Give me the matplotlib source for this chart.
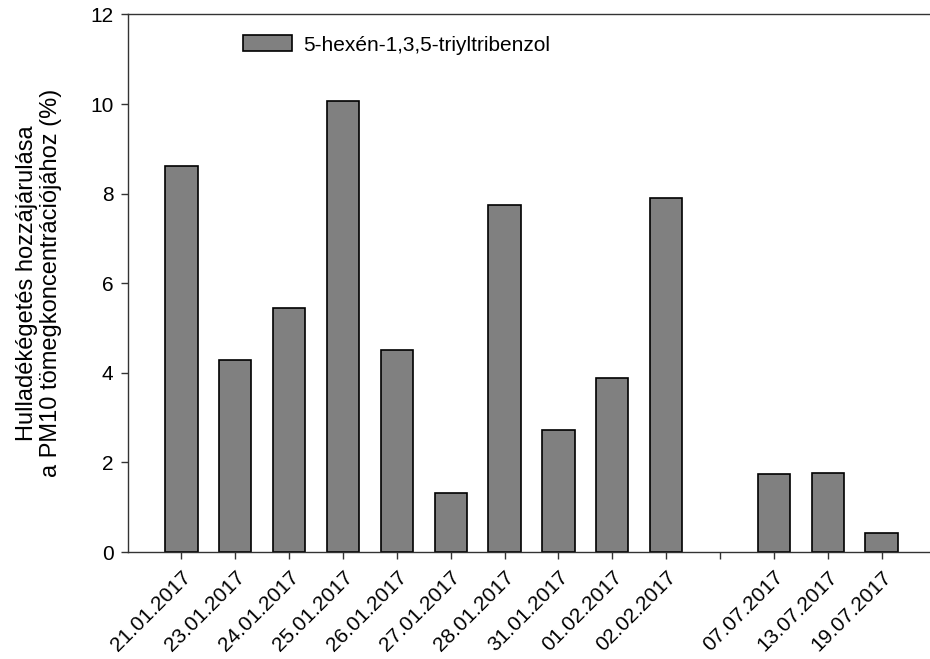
import matplotlib
matplotlib.use("Agg")
import matplotlib.pyplot as plt

plt.rcParams['font.family'] = ['Liberation Sans', 'DejaVu Sans']

# sampling dates (empty slot separates January/February from July)
dates = ['21.01.2017', '23.01.2017', '24.01.2017', '25.01.2017', '26.01.2017',
         '27.01.2017', '28.01.2017', '31.01.2017', '01.02.2017', '02.02.2017',
         '', '07.07.2017', '13.07.2017', '19.07.2017']
# contribution of waste burning to PM10 (%), None = no bar
values = [8.62, 4.29, 5.44, 10.06, 4.52, 1.32, 7.74, 2.73, 3.88, 7.91,
          None, 1.75, 1.77, 0.42]
series_name = '5-hexén-1,3,5-triyltribenzol'

fs = 15
fig = plt.figure(figsize=(9.30, 6.59), dpi=100)
W, H = 930, 659
x0, x1 = 127.5, 935.5
y0, y1 = 552.0, 14.4
ax = fig.add_axes([x0 / W, 1 - y0 / H, (x1 - x0) / W, (y0 - y1) / H])

pos = [i for i, v in enumerate(values) if v is not None]
vals = [v for v in values if v is not None]
ax.bar(pos, vals, width=0.6, color='#808080', edgecolor='black',
       linewidth=1.2, label=series_name, zorder=2)

ax.set_xlim(-1, 14)
ax.set_ylim(0, 12)
ax.set_yticks(range(0, 13, 2))
ax.set_xticks(range(len(dates)))
ax.set_xticklabels(dates, rotation=45, ha='right', rotation_mode='anchor',
                   fontsize=fs)
ax.tick_params(axis='y', labelsize=fs, direction='out', length=5, width=1,
               color='#333333', pad=5)
ax.tick_params(axis='x', direction='out', length=5, width=1, color='#333333',
               pad=6)

for s in ['left', 'top', 'bottom']:
    ax.spines[s].set_color('#333333')
    ax.spines[s].set_linewidth(1.0)
ax.spines['right'].set_visible(False)

ax.set_ylabel('Hulladékégetés hozzájárulása\na PM10 tömegkoncentrációjához (%)',
              fontsize=17, labelpad=20, linespacing=1.15)

ax.legend(loc='center left', bbox_to_anchor=(243.3 / W, 1 - 45 / H),
          bbox_transform=fig.transFigure, frameon=False, fontsize=fs,
          handlelength=2.35, handleheight=0.77, handletextpad=0.51,
          borderpad=0, borderaxespad=0)

fig.savefig('out.png', dpi=100)
